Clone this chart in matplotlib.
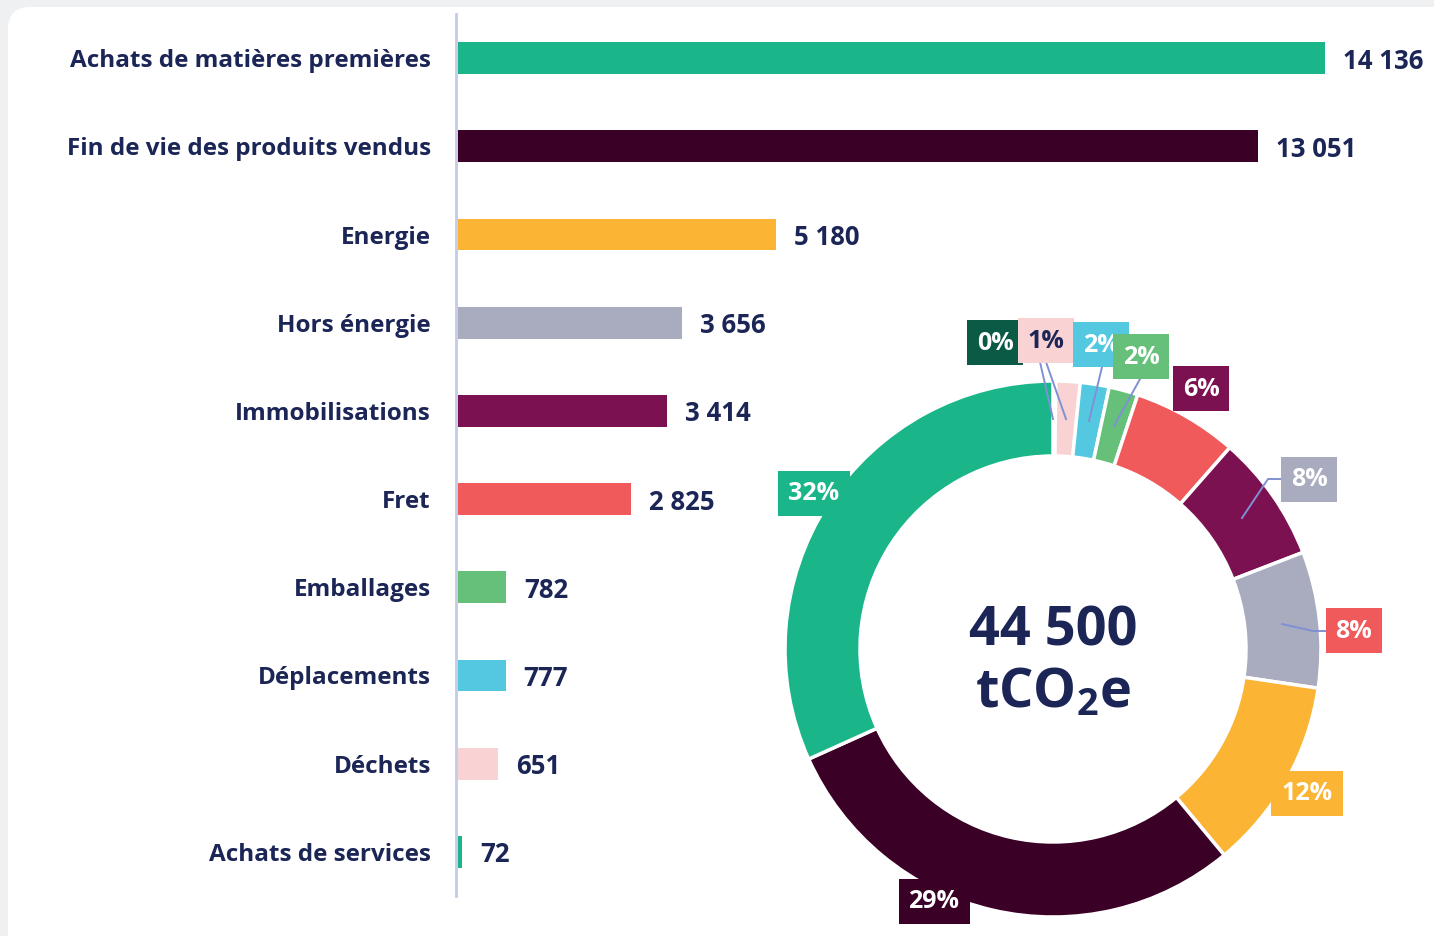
import matplotlib.pyplot as plt
from matplotlib.patches import FancyBboxPatch

plt.rcParams['font.family'] = ['Open Sans', 'DejaVu Sans']
plt.rcParams['mathtext.fontset'] = 'custom'
plt.rcParams['mathtext.bf'] = 'Open Sans:bold'
plt.rcParams['mathtext.rm'] = 'Open Sans:bold'

# data
categories = ['Achats de matières premières', 'Fin de vie des produits vendus', 'Energie',
              'Hors énergie', 'Immobilisations', 'Fret', 'Emballages', 'Déplacements',
              'Déchets', 'Achats de services']
values = [14136, 13051, 5180, 3656, 3414, 2825, 782, 777, 651, 72]
value_labels = ['14 136', '13 051', '5 180', '3 656', '3 414', '2 825', '782', '777', '651', '72']
pct_labels = ['32%', '29%', '12%', '8%', '8%', '6%', '2%', '2%', '1%', '0%']
total_label = '44 500'

NAVY = '#1b2556'
colors = ['#1ab68a', '#3a0026', '#fbb433', '#a9acbf', '#7b1150',
          '#f05a5a', '#66c07a', '#55c8e1', '#f9d3d3', '#1ab68a']
box_colors = ['#1ab68a', '#3a0026', '#fbb433', '#f05a5a', '#a9acbf',
              '#7b1150', '#66c07a', '#55c8e1', '#f9d3d3', '#0b5a45']
box_text = ['white'] * 8 + [NAVY, 'white']
# label box centres and leader lines, in pixels from the top-left corner
box_pos = [(814, 494), (934, 902), (1307, 794), (1354, 631), (1309, 480),
           (1201, 389), (1141, 357), (1101, 345), (1046, 341), (995, 343)]
leaders = [None, None, None,
           [(1326, 632), (1313, 632), (1282, 625)],
           [(1281, 480), (1268, 480), (1242, 519)],
           None,
           [(1140, 380), (1114, 427)],
           [(1102, 368), (1089, 422)],
           [(1046, 363), (1066, 420)],
           [(1040, 363), (1053, 420)]]

W, H = 1434, 937
fig = plt.figure(figsize=(W / 100, H / 100), dpi=100, facecolor='#eef0f2')

# background card
bg = fig.add_axes([0, 0, 1, 1], zorder=0)
bg.set_xlim(0, W)
bg.set_ylim(0, H)
bg.axis('off')
bg.add_patch(FancyBboxPatch((8, -40), W + 40, H - 8 + 40, boxstyle='round,pad=0,rounding_size=22',
                            facecolor='white', edgecolor='none'))

# bar chart
px_per_unit = (1325 - 458) / values[0]
ax = fig.add_axes([458 / W, 40 / H, 976 / W, 882 / H], zorder=1)
ax.patch.set_alpha(0)
ypos = list(range(len(values)))
ax.barh(ypos, values, height=0.36, color=colors)
ax.set_xlim(0, 976 / px_per_unit)
ax.set_ylim(len(values) - 0.5, -0.5)
for s in ['top', 'right', 'bottom']:
    ax.spines[s].set_visible(False)
ax.spines['left'].set_color('#c5cae6')
ax.spines['left'].set_linewidth(2)
ax.spines['left'].set_position(('outward', 1.5))
ax.set_xticks([])
ax.set_yticks([])
for i, (cat, v, lab) in enumerate(zip(categories, values, value_labels)):
    ax.annotate(cat, (0, i), xytext=(-27, -2), textcoords='offset pixels', ha='right', va='center',
                fontsize=17.5, fontweight='bold', color=NAVY)
    ax.annotate(lab, (v, i), xytext=(18, -2), textcoords='offset pixels', ha='left', va='center',
                fontsize=18.5, fontweight='bold', color=NAVY)

# donut
pax = fig.add_axes([0, 0, 1, 1], zorder=2)
pax.patch.set_alpha(0)
cx, cy, R = 1053, H - 650, 268
pax.pie(values[::-1], colors=colors[::-1], startangle=90, counterclock=False,
        center=(cx, cy), radius=R, wedgeprops=dict(width=75, edgecolor='white', linewidth=2.5))
pax.set_xlim(0, W)
pax.set_ylim(0, H)
pax.axis('off')

for i in range(len(values) - 1, -1, -1):
    pts = leaders[i]
    if pts:
        pax.plot([p[0] for p in pts], [H - p[1] for p in pts], color='#8090d4', lw=1.4, zorder=3)
for i in range(len(values) - 1, -1, -1):
    x, y = box_pos[i]
    pax.text(x, H - y, pct_labels[i], ha='center', va='center', fontsize=18, fontweight='bold',
             color=box_text[i], zorder=4 + (len(values) - i),
             bbox=dict(boxstyle='square,pad=0.4', facecolor=box_colors[i], edgecolor='none'))

pax.text(cx, H - 632, total_label, ha='center', va='center', fontsize=39, fontweight='bold', color=NAVY)
pax.text(cx, H - 693, r'$\mathbf{tCO_2e}$', ha='center', va='center', fontsize=39, color=NAVY)

fig.savefig('out.png', dpi=100, facecolor=fig.get_facecolor())
